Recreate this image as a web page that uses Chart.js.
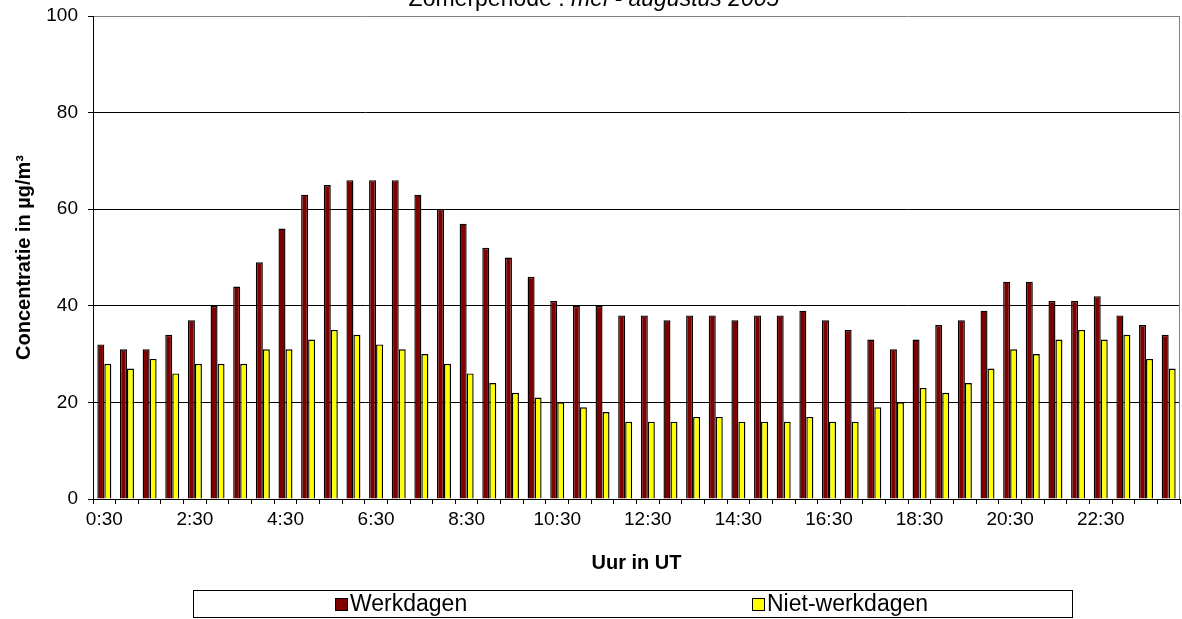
<!DOCTYPE html>
<html>
<head>
<meta charset="utf-8">
<script src="https://cdn.jsdelivr.net/npm/chart.js@4.4.1/dist/chart.umd.min.js"></script>
<style>
html,body{margin:0;padding:0;background:#fff;overflow:hidden}
#wrap{position:relative;width:1182px;height:619px}
</style>
</head>
<body>
<div id="wrap"><canvas id="c"></canvas></div>
<script>
const categories = ['0:30','1:00','1:30','2:00','2:30','3:00','3:30','4:00','4:30','5:00','5:30','6:00',
  '6:30','7:00','7:30','8:00','8:30','9:00','9:30','10:00','10:30','11:00','11:30','12:00',
  '12:30','13:00','13:30','14:00','14:30','15:00','15:30','16:00','16:30','17:00','17:30','18:00',
  '18:30','19:00','19:30','20:00','20:30','21:00','21:30','22:00','22:30','23:00','23:30','24:00'];
const tickLabels = ['0:30','2:30','4:30','6:30','8:30','10:30','12:30','14:30','16:30','18:30','20:30','22:30'];
const werkdagen = [32,31,31,34,37,40,44,49,56,63,65,66,66,66,63,60,57,52,50,46,41,40,40,38,
  38,37,38,38,37,38,38,39,37,35,33,31,33,36,37,39,45,45,41,41,42,38,36,34];
const nietWerkdagen = [28,27,29,26,28,28,28,31,31,33,35,34,32,31,30,28,26,24,22,21,20,19,18,16,
  16,16,17,17,16,16,16,17,16,16,19,20,23,22,24,27,31,30,33,35,33,34,29,27];
const seriesNames = ['Werkdagen','Niet-werkdagen'];
const seriesColors = ['#800000','#FFFF00'];
const yTicks = [0,20,40,60,80,100];
const titleNormal = 'Zomerperiode : ';
const titleItalic = 'mei - augustus 2005';
const xTitle = 'Uur in UT';
const yTitle = 'Concentratie in µg/m³';

const FONT = '"Liberation Sans", Arial, Helvetica, sans-serif';

const titlePlugin = {
  id: 'topTitle',
  afterDraw(chart) {
    const ctx = chart.ctx;
    ctx.save();
    ctx.fillStyle = '#000';
    ctx.textBaseline = 'alphabetic';
    ctx.textAlign = 'left';
    const fN = '23px ' + FONT, fI = 'italic 23px ' + FONT;
    ctx.font = fN; const w1 = ctx.measureText(titleNormal).width;
    ctx.font = fI; const w2 = ctx.measureText(titleItalic).width;
    const cx = 594, y = 6;
    const x0 = cx - (w1 + w2) / 2;
    ctx.font = fN; ctx.fillText(titleNormal, x0, y);
    ctx.font = fI; ctx.fillText(titleItalic, x0 + w1, y);
    ctx.restore();
  }
};

const framePlugin = {
  id: 'frame',
  beforeDatasetsDraw(chart) {
    const {ctx, chartArea} = chart;
    ctx.save();
    ctx.strokeStyle = '#808080';
    ctx.lineWidth = 1;
    const x = Math.round(chartArea.right) - 0.5;
    ctx.beginPath();
    ctx.moveTo(x, chartArea.top);
    ctx.lineTo(x, chartArea.bottom);
    ctx.stroke();
    ctx.restore();
  }
};

const legendPlugin = {
  id: 'boxLegend',
  afterDraw(chart) {
    const ctx = chart.ctx;
    ctx.save();
    ctx.strokeStyle = '#000';
    ctx.lineWidth = 1;
    ctx.strokeRect(193.5, 590.5, 879, 27);
    const xs = [335, 752];
    ctx.font = '23px ' + FONT;
    ctx.textBaseline = 'middle';
    ctx.textAlign = 'left';
    chart.data.datasets.forEach((ds, i) => {
      ctx.fillStyle = ds.backgroundColor;
      ctx.fillRect(xs[i] + 0.5, 598.5, 12, 12);
      ctx.strokeRect(xs[i] + 0.5, 598.5, 12, 12);
      ctx.fillStyle = '#000';
      ctx.fillText(ds.label, xs[i] + 15, 605);
    });
    ctx.restore();
  }
};

new Chart(document.getElementById('c'), {
  type: 'bar',
  data: {
    labels: categories,
    datasets: [
      {label: seriesNames[0], data: werkdagen, backgroundColor: seriesColors[0], borderColor: '#000', borderWidth: 1.4},
      {label: seriesNames[1], data: nietWerkdagen, backgroundColor: seriesColors[1], borderColor: '#000', borderWidth: 1.4}
    ]
  },
  plugins: [titlePlugin, framePlugin, legendPlugin],
  options: {
    responsive: true,
    maintainAspectRatio: false,
    animation: false,
    layout: {padding: {left: 0, right: 2, top: 16, bottom: 0}},
    datasets: {bar: {categoryPercentage: 0.618, barPercentage: 1.0}},
    plugins: {legend: {display: false}, tooltip: {enabled: false}, title: {display: false}},
    scales: {
      x: {
        grid: {offset: true, drawOnChartArea: false, drawTicks: true, tickLength: 5, color: '#000', tickColor: '#000', lineWidth: 1},
        border: {color: '#000', width: 1},
        ticks: {
          autoSkip: false, maxRotation: 0, minRotation: 0, padding: 4, color: '#000',
          font: {family: FONT, size: 19},
          callback: (v, i) => tickLabels.includes(categories[i]) ? categories[i] : ''
        },
        title: {display: true, text: xTitle, color: '#000', font: {family: FONT, size: 20, weight: 'bold'}, padding: {top: 0, bottom: 44}},
        afterFit: s => { s.height = 120; s.paddingLeft = 0; s.paddingRight = 0; }
      },
      y: {
        min: 0, max: 100,
        afterBuildTicks: s => { s.ticks = yTicks.map(v => ({value: v})); },
        ticks: {padding: 10, color: '#000', font: {family: FONT, size: 19}},
        grid: {color: c => (c.tick && c.tick.value === 100) ? '#808080' : '#000', tickLength: 5, tickColor: '#000', lineWidth: 1},
        border: {color: '#000', width: 1},
        title: {display: true, text: yTitle, color: '#000', font: {family: FONT, size: 20, weight: 'bold'}, padding: {top: 12, bottom: 0}},
        afterFit: s => { s.width = 93; s.paddingTop = 0; s.paddingBottom = 0; }
      }
    }
  }
});
</script>
</body>
</html>
